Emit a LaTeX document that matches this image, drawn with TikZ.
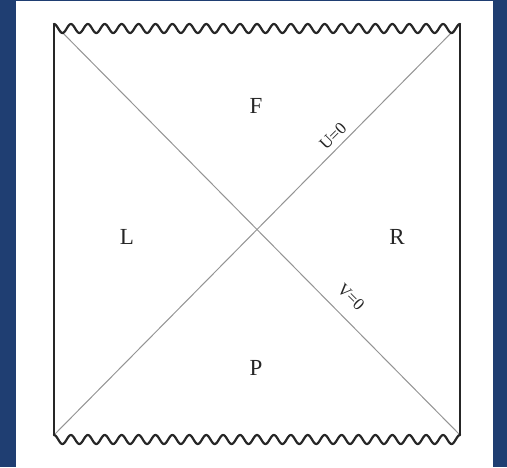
\documentclass[tikz,border=0pt]{standalone}
\usepackage{fontspec}
\setmainfont{Liberation Serif}
\definecolor{bgblue}{HTML}{1F3E72}
\definecolor{txt}{HTML}{262626}
\begin{document}
\begin{tikzpicture}[x=1pt,y=-1pt,
  wall/.style={line width=2.4pt,black!85,line cap=round,line join=round},
  horizon/.style={line width=1pt,black!42},
  region/.style={font=\fontsize{23}{25}\selectfont,text=txt},
  hlabel/.style={font=\fontsize{17}{19}\selectfont,text=txt,inner sep=0pt}]
\useasboundingbox (0,0) rectangle (507,467);
\fill[bgblue] (0,0) rectangle (507,467);
\fill[white] (16,1) rectangle (493,467);
\coordinate (tl) at (54,24);
\coordinate (tr) at (460,24);
\coordinate (bl) at (54,435);
\coordinate (br) at (460,435);
% horizons
\draw[horizon] (tl) -- (br);
\draw[horizon] (bl) -- (tr);
% walls
\draw[wall] (tl) -- (bl);
\draw[wall] (tr) -- (br);
% singularities
\draw[wall,line width=2.2pt] plot[domain=54:460,samples=400] (\x,{28.5-4.5*cos(21.2808*(\x-54))});
\draw[wall,line width=2.2pt] plot[domain=54:460,samples=400] (\x,{439.5-4.5*cos(21.2808*(\x-54))});
% region labels
\node[region] (F) at (256,106) {F};
\node[region] (L) at (127,237) {L};
\node[region] (R) at (397,237) {R};
\node[region] (P) at (256,368) {P};
\node[hlabel,rotate=45] (U) at (333,136) {U=0};
\node[hlabel,rotate=-45] (V) at (351,297) {V=0};
\end{tikzpicture}
\end{document}
